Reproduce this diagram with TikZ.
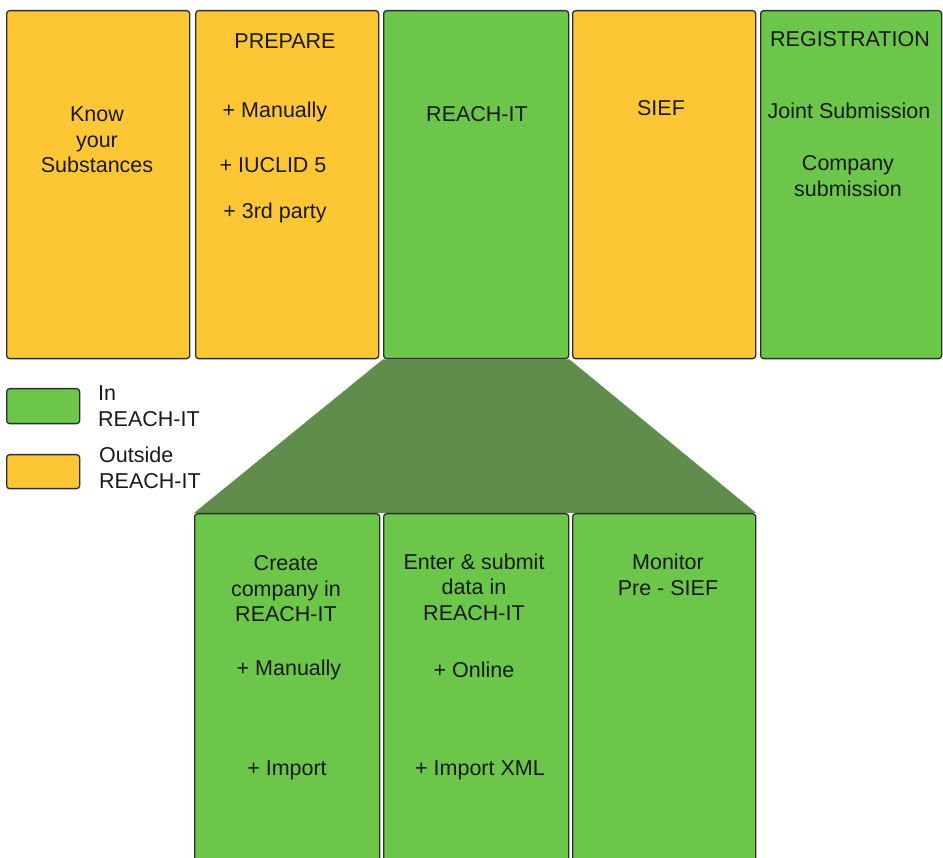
\documentclass[tikz,border=0pt]{standalone}
\usepackage{fontspec}
\setmainfont{Liberation Sans}
\usetikzlibrary{backgrounds}
\definecolor{boxgreen}{RGB}{108,198,74}
\definecolor{boxorange}{RGB}{252,198,52}
\definecolor{zoomgreen}{RGB}{96,140,76}
\definecolor{edgegray}{RGB}{45,45,45}
\begin{document}
\begin{tikzpicture}[x=1pt,y=-1pt,
  box/.style={draw=edgegray,line width=1.3pt,rounded corners=3pt,anchor=north west,inner sep=0pt,minimum width=#1},
  gbox/.style={box=183pt,fill=boxgreen},
  obox/.style={box=183pt,fill=boxorange},
  lbl/.style={font=\fontsize{21.5}{25.5}\selectfont,align=center,inner sep=0pt,text=black!90},
  leg/.style={font=\fontsize{21.5}{25.5}\selectfont,align=left,inner sep=0pt,anchor=west,text=black!90}]
\useasboundingbox (0,0) rectangle (943,858);
\clip (0,0) rectangle (943,858);
% top row
\node[obox,minimum height=348pt] (know) at (6,10) {};
\node[obox,minimum height=348pt] (prep) at (195,10) {};
\node[gbox,minimum height=348pt,minimum width=185pt] (reach) at (383,10) {};
\node[obox,minimum height=348pt] (sief) at (572,10) {};
\node[gbox,minimum height=348pt,minimum width=181pt] (reg) at (760,10) {};
% bottom row
\node[gbox,minimum height=380pt,minimum width=185pt] (create) at (194,513) {};
\node[gbox,minimum height=380pt,minimum width=185pt] (enter) at (383,513) {};
\node[gbox,minimum height=380pt] (monitor) at (572,513) {};
% zoom trapezoid
\begin{scope}[on background layer]
\fill[zoomgreen] (reach.south west) -- (reach.south east) -- (monitor.north east) -- (create.north west) -- cycle;
\end{scope}
% legend
\node[box=73pt,minimum height=35pt,fill=boxgreen] (legin) at (6,388) {};
\node[box=73pt,minimum height=34pt,fill=boxorange] (legout) at (6,454) {};
\node[leg] (legint) at (98,406) {In\\REACH-IT};
\node[leg] (legoutt) at (99,468) {Outside\\REACH-IT};
% texts top
\node[lbl] (t1) at (97,140) {Know\\your\\Substances};
\node[lbl] (t2) at (285,41) {PREPARE};
\node[lbl] (t2a) at (275,112) {+ Manually};
\node[lbl] (t2b) at (273,165) {+ IUCLID 5};
\node[lbl] (t2c) at (275,213) {+ 3rd party};
\node[lbl] (t3) at (477,114) {REACH-IT};
\node[lbl] (t4) at (661,108) {SIEF};
\node[lbl] (t5) at (850,39) {REGISTRATION};
\node[lbl] (t5a) at (849,111) {Joint Submission};
\node[lbl] (t5b) at (848,176) {Company\\submission};
% texts bottom
\node[lbl] (b1) at (286,589) {Create\\company in\\REACH-IT};
\node[lbl] (b1a) at (289,670) {+ Manually};
\node[lbl] (b1b) at (287,770) {+ Import};
\node[lbl] (b2) at (474,587) {Enter \& submit\\data in\\REACH-IT};
\node[lbl] (b2a) at (474,670) {+ Online};
\node[lbl] (b2b) at (480,770) {+ Import XML};
\node[lbl] (b3) at (668,575) {Monitor\\Pre - SIEF};
\end{tikzpicture}
\end{document}
